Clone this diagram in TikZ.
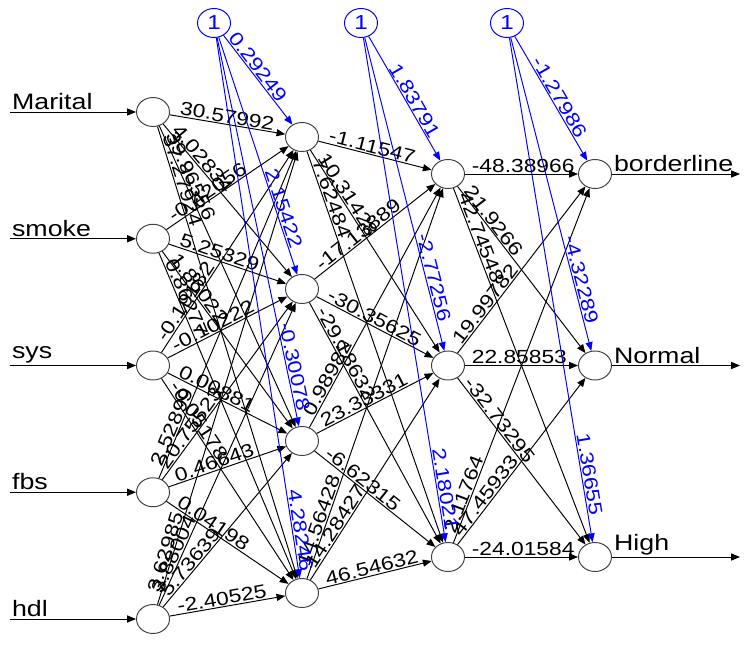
\documentclass[tikz,border=0pt]{standalone}
\usepackage{fontspec}
\setmainfont{Liberation Sans}[FakeStretch=1.2]
\usetikzlibrary{shapes.geometric,arrows.meta,calc}

\begin{document}
\begin{tikzpicture}[
  neuron/.style={ellipse,draw=black!75,line width=0.55pt,minimum width=0.66cm,minimum height=0.58cm,inner sep=0pt},
  biasnode/.style={neuron,draw=blue,text=blue,font=\fontsize{11.5}{12}\selectfont},
  conn/.style={-{Triangle[length=5pt,width=4pt]},line width=0.55pt},
  bconn/.style={conn,blue},
  wlab/.style={sloped,pos=0,anchor=south west,inner sep=0.6pt,font=\fontsize{10.8}{12}\selectfont},
  blab/.style={sloped,pos=1,anchor=south east,inner sep=0.6pt,text=blue,font=\fontsize{10.8}{12}\selectfont},
  vlab/.style={anchor=south west,inner sep=1pt,font=\fontsize{12.7}{14}\selectfont}]
  \useasboundingbox (0,0) rectangle (15,-12.9);
  % input layer
  \foreach \lab [count=\i] in {Marital,smoke,sys,fbs,hdl} {
    \node[neuron] (I\i) at (3.06,{-2.24-(\i-1)*2.535}) {};
    \coordinate (s\i) at (0.2,{-2.24-(\i-1)*2.535});
    \draw[conn] (s\i) -- (I\i);
    \node[vlab] (n\i) at (s\i) {\lab};
  }
  % hidden layers
  \foreach \j in {1,...,4} \node[neuron] (H\j) at (6.04,{-2.74-(\j-1)*3.04}) {};
  \foreach \k in {1,2,3} \node[neuron] (K\k) at (8.96,{-3.48-(\k-1)*3.83}) {};
  % output layer
  \foreach \lab [count=\k] in {borderline,Normal,High} {
    \node[neuron] (O\k) at (11.9,{-3.48-(\k-1)*3.83}) {};
    \coordinate (e\k) at (14.8,{-3.48-(\k-1)*3.83});
    \draw[conn] (O\k) -- (e\k);
    \node[vlab] (m\k) at (O\k.east) {\lab};
  }
  % bias nodes
  \node[biasnode] (B1) at (4.28,-0.46) {1};
  \node[biasnode] (B2) at (7.22,-0.46) {1};
  \node[biasnode] (B3) at (10.14,-0.46) {1};
  % input -> hidden 1
  \foreach \i/\j/\w in {1/1/30.57992,1/2/4.02834,1/3/39.96556,1/4/37.27924,
      2/1/-0.42056,2/2/5.25329,2/3/1.86022,2/4/0.86277,
      3/1/-0.19182,3/2/-0.10222,3/3/0.00881,3/4/-0.05178,
      4/1/2.52899,4/2/20.75523,4/3/0.46643,4/4/0.04198,
      5/1/3.62985,5/2/3.88004,5/3/5.73639,5/4/-2.40525} {
    \draw[conn] (I\i) -- (H\j);
    \path ($(I\i)!0.5cm!(H\j)$) -- (H\j) node[wlab] {\w};
  }
  % hidden 1 -> hidden 2
  \foreach \j/\k/\w in {1/1/-1.11547,1/2/10.31428,1/3/7.62484,
      2/1/-17.13889,2/2/-30.35625,2/3/-29.18632,
      3/1/0.98982,3/2/23.33331,3/3/-6.62315,
      4/1/14.56428,4/2/14.28427,4/3/46.54632} {
    \draw[conn] (H\j) -- (K\k);
    \path ($(H\j)!0.5cm!(K\k)$) -- (K\k) node[wlab] {\w};
  }
  % hidden 2 -> output
  \foreach \k/\o/\w in {1/1/-48.38966,1/2/21.9266,1/3/42.74548,
      2/1/19.99782,2/2/22.85853,2/3/-32.73295,
      3/1/2.11764,3/2/47.45933,3/3/-24.01584} {
    \draw[conn] (K\k) -- (O\o);
    \path ($(K\k)!0.45cm!(O\o)$) -- (O\o) node[wlab] {\w};
  }
  % bias weights
  \foreach \j/\d/\w in {1/0.8cm/0.29249,2/0.8cm/2.15422,3/0.55cm/-0.30078,4/0.4cm/4.28246} {
    \draw[bconn] (B1) -- (H\j);
    \path (B1) -- ($(H\j)!\d!(B1)$) node[blab] {\w};
  }
  \foreach \k/\d/\w in {1/0.75cm/1.83791,2/0.85cm/-2.77256,3/0.5cm/2.18021} {
    \draw[bconn] (B2) -- (K\k);
    \path (B2) -- ($(K\k)!\d!(B2)$) node[blab] {\w};
  }
  \foreach \o/\d/\w in {1/0.75cm/-1.27986,2/0.8cm/-4.32289,3/0.8cm/1.36655} {
    \draw[bconn] (B3) -- (O\o);
    \path (B3) -- ($(O\o)!\d!(B3)$) node[blab] {\w};
  }
\end{tikzpicture}
\end{document}
